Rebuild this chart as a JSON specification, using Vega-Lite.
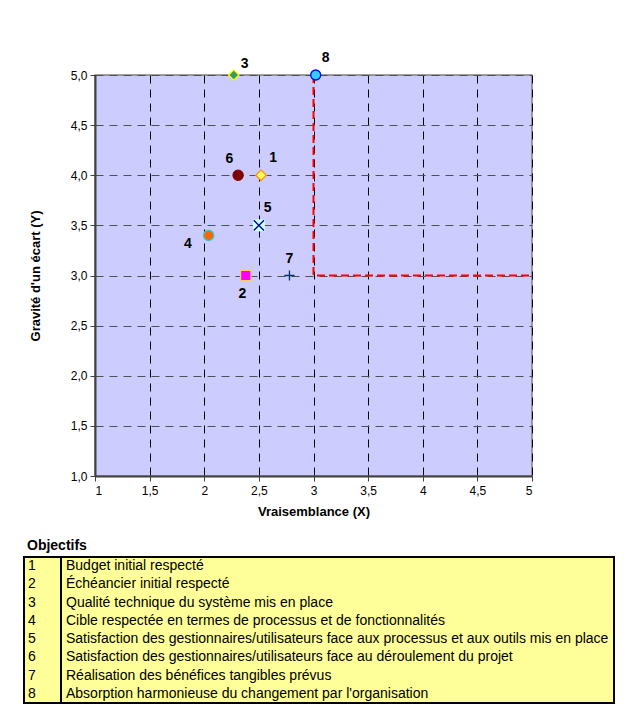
{
  "$schema": "https://vega.github.io/schema/vega-lite/v6.json",
  "padding": {"left": 23, "top": 50, "right": 5, "bottom": 0},
  "autosize": {"type": "pad"},
  "background": "#FFFFFF",
  "config": {
    "font": "Liberation Sans",
    "locale": {"number": {"decimal": ",", "thousands": " ", "grouping": [3], "currency": ["", " €"]}}
  },
  "datasets": {
    "points": [
      {"id": "1", "x": 2.52, "y": 4.0, "lx": 2.63, "ly": 4.17, "label": "Budget initial respecté"},
      {"id": "2", "x": 2.38, "y": 3.0, "lx": 2.35, "ly": 2.82, "label": "Échéancier initial respecté"},
      {"id": "3", "x": 2.27, "y": 5.0, "lx": 2.37, "ly": 5.11, "label": "Qualité technique du système mis en place"},
      {"id": "4", "x": 2.04, "y": 3.4, "lx": 1.85, "ly": 3.31, "label": "Cible respectée en termes de processus et de fonctionnalités"},
      {"id": "5", "x": 2.5, "y": 3.5, "lx": 2.58, "ly": 3.67, "label": "Satisfaction des gestionnaires/utilisateurs face aux processus et aux outils mis en place"},
      {"id": "6", "x": 2.31, "y": 4.0, "lx": 2.23, "ly": 4.16, "label": "Satisfaction des gestionnaires/utilisateurs face au déroulement du projet"},
      {"id": "7", "x": 2.78, "y": 3.0, "lx": 2.78, "ly": 3.16, "label": "Réalisation des bénéfices tangibles prévus"},
      {"id": "8", "x": 3.02, "y": 5.0, "lx": 3.11, "ly": 5.17, "label": "Absorption harmonieuse du changement par l'organisation"}
    ],
    "ref": [
      {"o": 1, "x": 3, "y": 5},
      {"o": 2, "x": 3, "y": 3},
      {"o": 3, "x": 5, "y": 3}
    ],
    "tableBox": [
      {"x0": 0, "x1": 590}
    ]
  },
  "vconcat": [
    {
      "width": 437,
      "height": 401,
      "view": {"fill": "#CCCCFF", "stroke": "#808080", "strokeWidth": 1.5},
      "layer": [
        {
          "data": {"name": "ref"},
          "mark": {"type": "line", "color": "#FF0000", "strokeWidth": 2, "strokeDash": [8, 4]},
          "encoding": {
            "order": {"field": "o"},
            "x": {
              "field": "x", "type": "quantitative",
              "scale": {"domain": [1, 5], "nice": false, "zero": false},
              "axis": {
                "values": [1, 1.5, 2, 2.5, 3, 3.5, 4, 4.5, 5],
                "format": "~g",
                "title": "Vraisemblance (X)",
                "titleFontSize": 13, "titleFontWeight": "bold", "titleColor": "#000000", "titlePadding": 9,
                "labelFontSize": 12, "labelColor": "#000000", "labelPadding": 4,
                "tickSize": 5, "tickColor": "#404040", "domainColor": "#404040", "domainWidth": 2,
                "grid": true, "gridColor": "#000000", "gridDash": [8, 6], "gridOpacity": 1, "gridWidth": 1
              }
            },
            "y": {
              "field": "y", "type": "quantitative",
              "scale": {"domain": [1, 5], "nice": false, "zero": false},
              "axis": {
                "values": [1, 1.5, 2, 2.5, 3, 3.5, 4, 4.5, 5],
                "format": ".1f",
                "title": "Gravité d'un écart (Y)",
                "titleFontSize": 13, "titleFontWeight": "bold", "titleColor": "#000000", "titlePadding": 28,
                "labelFontSize": 12, "labelColor": "#000000", "labelPadding": 3,
                "tickSize": 5, "tickColor": "#404040", "domainColor": "#404040", "domainWidth": 2,
                "grid": true, "gridColor": "#505050", "gridDash": [8, 6], "gridOpacity": 1, "gridWidth": 1
              }
            }
          }
        },
        {
          "data": {"name": "points"},
          "transform": [{"filter": "datum.id == '5'"}],
          "mark": {"type": "square", "color": "#CCFFFF", "opacity": 1, "size": 144, "filled": true},
          "encoding": {
            "x": {"field": "x", "type": "quantitative"},
            "y": {"field": "y", "type": "quantitative"}
          }
        },
        {
          "data": {"name": "points"},
          "mark": {"type": "point", "opacity": 1, "strokeWidth": 1.3},
          "encoding": {
            "x": {"field": "x", "type": "quantitative"},
            "y": {"field": "y", "type": "quantitative"},
            "shape": {
              "field": "id", "type": "nominal", "legend": null,
              "scale": {"domain": ["1", "2", "3", "4", "5", "6", "7", "8"],
                "range": ["diamond", "square", "diamond", "circle", "M-1,-1L1,1M-1,1L1,-1", "circle", "M-1,0L1,0M0,-1L0,1", "circle"]}
            },
            "fill": {
              "field": "id", "type": "nominal", "legend": null,
              "scale": {"domain": ["1", "2", "3", "4", "5", "6", "7", "8"],
                "range": ["#FFFF66", "#FF00FF", "#339966", "#FF6600", "transparent", "#800000", "transparent", "#33CCFF"]}
            },
            "stroke": {
              "field": "id", "type": "nominal", "legend": null,
              "scale": {"domain": ["1", "2", "3", "4", "5", "6", "7", "8"],
                "range": ["#FF9900", "#FFCC66", "#FFFF00", "#33CCCC", "#000080", "#800000", "#003366", "#0000FF"]}
            },
            "size": {
              "field": "id", "type": "nominal", "legend": null,
              "scale": {"domain": ["1", "2", "3", "4", "5", "6", "7", "8"],
                "range": [110, 100, 72, 100, 144, 144, 196, 144]}
            }
          }
        },
        {
          "data": {"name": "points"},
          "mark": {"type": "text", "fontSize": 14, "fontWeight": "bold", "color": "#000000", "align": "center", "baseline": "middle"},
          "encoding": {
            "x": {"field": "lx", "type": "quantitative"},
            "y": {"field": "ly", "type": "quantitative"},
            "text": {"field": "id"}
          }
        }
      ]
    },
    {
      "width": 518,
      "height": 146,
      "title": {"text": "Objectifs", "anchor": "start", "frame": "group", "dx": -68, "fontSize": 14, "fontWeight": "bold", "color": "#000000", "offset": 3, "font": "Liberation Sans"},
      "view": {"stroke": null, "fill": null},
      "layer": [
        {
          "data": {"name": "tableBox"},
          "mark": {"type": "rect", "fill": "#FFFF99", "stroke": "#000000", "strokeWidth": 2},
          "encoding": {
            "x": {"field": "x0", "type": "quantitative", "axis": null, "scale": {"domain": [0, 590], "range": [-71, 519], "nice": false, "zero": false}},
            "x2": {"field": "x1"}
          }
        },
        {
          "data": {"name": "tableBox"},
          "mark": {"type": "rule", "color": "#000000", "strokeWidth": 2},
          "encoding": {
            "x": {"datum": 37, "type": "quantitative"}
          }
        },
        {
          "data": {"name": "points"},
          "mark": {"type": "text", "align": "left", "baseline": "middle", "fontSize": 14, "color": "#000000"},
          "encoding": {
            "x": {"datum": 4, "type": "quantitative"},
            "y": {"field": "id", "type": "ordinal", "axis": null, "scale": {"paddingInner": 0, "paddingOuter": 0}},
            "text": {"field": "id"}
          }
        },
        {
          "data": {"name": "points"},
          "mark": {"type": "text", "align": "left", "baseline": "middle", "fontSize": 14, "color": "#000000"},
          "encoding": {
            "x": {"datum": 42, "type": "quantitative"},
            "y": {"field": "id", "type": "ordinal"},
            "text": {"field": "label"}
          }
        }
      ]
    }
  ],
  "spacing": 20
}
